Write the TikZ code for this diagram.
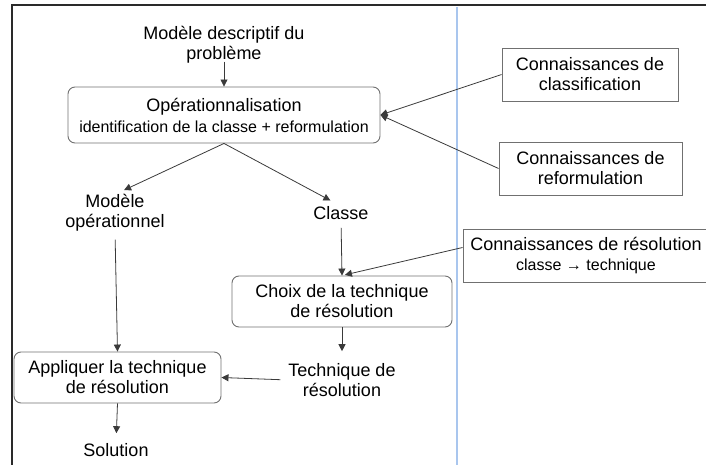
\documentclass[tikz,border=0pt]{standalone}
\usepackage{fontspec}
\setmainfont{Liberation Sans}
\usetikzlibrary{arrows.meta}

\definecolor{framegray}{HTML}{2A2A2A}
\definecolor{boxgray}{HTML}{707070}
\definecolor{linegray}{HTML}{3A3A3A}
\definecolor{sepblue}{HTML}{A9C6EE}

\tikzset{
  txt/.style={align=center, inner sep=0pt, font=\fontsize{18}{20}\selectfont},
  proc/.style={txt, draw=boxgray, line width=0.9pt, rounded corners=7pt},
  know/.style={txt, draw=boxgray, line width=0.9pt},
  arr/.style={-{Triangle[length=7pt,width=7pt]}, draw=linegray, line width=0.8pt},
}

\begin{document}
\begin{tikzpicture}[x=1pt, y=-1pt]
    \useasboundingbox (0,0) rectangle (706,465);

    % frame and separator
    \draw[framegray, line width=1.4pt] (12,466) -- (12,5) -- (707,5);
    \draw[sepblue, line width=2pt] (457,7) -- (457,466);

    % left part
    \node[txt] (desc) at (224,45) {Modèle descriptif du\\problème};
    \node[proc, minimum width=312pt, minimum height=56pt] (oper) at (224,115)
        {Opérationnalisation\\[1pt]{\fontsize{16}{18}\selectfont identification de la classe + reformulation}};
    \node[txt] (modop) at (115,213) {Modèle\\opérationnel};
    \node[txt] (classe) at (341,213) {Classe};
    \node[proc, minimum width=220pt, minimum height=51pt] (choix) at (342,301.5)
        {Choix de la technique\\de résolution};
    \node[txt] (techres) at (342,380) {Technique de\\résolution};
    \node[proc, minimum width=207pt, minimum height=51pt] (appl) at (117.5,377.5)
        {Appliquer la technique\\de résolution};
    \node[txt] (sol) at (116,450) {Solution};

    % knowledge boxes
    \node[know, minimum width=176pt, minimum height=53pt] (classif) at (590,74.5)
        {Connaissances de\\classification};
    \node[know, minimum width=183pt, minimum height=53pt] (reform) at (590.5,168.5)
        {Connaissances de\\reformulation};
    \node[know, minimum width=246pt, minimum height=53pt] (resol) at (586,255.5)
        {Connaissances de résolution\\{\fontsize{16}{18}\selectfont classe → technique}};

    % connectors
    \draw[arr] (desc.south) ++(0,-2) -- (oper.north);
    \draw[arr, shorten >=10pt] (oper.south) -- (modop.north);
    \draw[arr, shorten >=12pt] (oper.south) -- (classe.north);
    \draw[arr, shorten <=8pt] (modop.south) -- (appl.north);
    \draw[arr, shorten <=8pt] (classe.south) -- (choix.north);
    \draw[arr, shorten >=12pt] (choix.south) -- (techres.north);
    \draw[arr, shorten <=8pt] (techres.west) -- (appl.east);
    \draw[arr, shorten >=10pt] (appl.south) -- (sol.north);
    \draw[arr] (classif.west) -- (oper.east);
    \draw[arr] (reform.west) -- (oper.east);
    \draw[arr, shorten >=3pt] ([yshift=8pt]resol.west) -- (choix.north);
\end{tikzpicture}
\end{document}
